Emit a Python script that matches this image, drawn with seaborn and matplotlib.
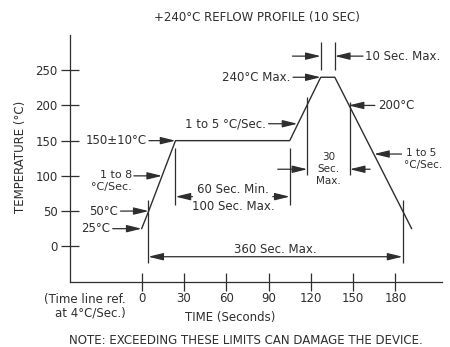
import matplotlib
matplotlib.use("Agg")
import matplotlib.pyplot as plt
import seaborn as sns

# Reflow profile (time in s, temperature in degC)
time_s = [0, 5, 24, 105, 127, 137, 191.5]
temp_c = [25, 50, 150, 150, 240, 240, 25]

x_ticks = [0, 30, 60, 90, 120, 150, 180]
y_ticks = [0, 50, 100, 150, 200, 250]

title = "+240°C REFLOW PROFILE (10 SEC)"
note = "NOTE: EXCEEDING THESE LIMITS CAN DAMAGE THE DEVICE."

INK = "#2e2e2e"
FS = 8.5

sns.set_theme(style="ticks")
plt.rcParams["font.family"] = ["DejaVu Sans"]

fig = plt.figure(figsize=(4.5, 3.47), dpi=100)
ax = fig.add_axes([70 / 450, 65 / 347, 372 / 450, 247 / 347])

sns.lineplot(x=time_s, y=temp_c, ax=ax, color=INK, lw=1.0)

ax.set_xlim(-50.8, 213)
ax.set_ylim(-50.7, 300)
sns.despine(ax=ax)
for side in ["left", "bottom"]:
    ax.spines[side].set_color(INK)
    ax.spines[side].set_linewidth(0.9)

ax.set_xticks(x_ticks)
ax.set_yticks(y_ticks)
ax.tick_params(direction="inout", length=13, width=0.9, color=INK,
               labelsize=FS, labelcolor=INK)
ax.tick_params(axis="x", pad=1)
ax.tick_params(axis="y", pad=2.5)

ax.set_xlabel("TIME (Seconds)", fontsize=FS, color=INK, va="center")
ax.xaxis.set_label_coords((230 - 70) / 372, (282 - 317) / 247)
ax.set_ylabel("TEMPERATURE (°C)", fontsize=FS, color=INK, va="center")
ax.yaxis.set_label_coords((21 - 70) / 372, (282 - 157) / 247)

fig.text(257 / 450, 1 - 18 / 347, title, ha="center", va="center",
         fontsize=FS, color=INK)
fig.text(246 / 450, 1 - 340 / 347, note, ha="center", va="center",
         fontsize=FS, color=INK)

ax.text(-11, -76, "(Time line ref.", ha="right", va="center",
        fontsize=FS, color=INK, clip_on=False)
ax.text(-11, -94.5, "at 4°C/Sec.)", ha="right", va="center",
        fontsize=FS, color=INK, clip_on=False)

HEAD = "-|>,head_length=0.9,head_width=0.22"


def arrow(tip, tail, style=HEAD):
    ax.annotate("", xy=tip, xytext=tail,
                arrowprops=dict(arrowstyle=style, color=INK, lw=0.9,
                                shrinkA=0, shrinkB=0, mutation_scale=10))


def label(x, y, s, ha="center", size=FS):
    ax.text(x, y, s, ha=ha, va="center", fontsize=size, color=INK,
            clip_on=False)


# callouts pointing at the profile
label(-22, 25, "25°C", ha="right")
arrow((time_s[0], temp_c[0]), (-20.5, 25))
label(-16.5, 50, "50°C", ha="right")
arrow((time_s[1], temp_c[1]), (-15, 50))
label(-7, 101, "1 to 8", ha="right", size=8)
label(-7, 84, "°C/Sec.", ha="right", size=8)
arrow((14.5, 100), (-5.5, 100))
label(3.8, 150, "150±10°C", ha="right")
arrow((time_s[2], temp_c[2]), (5.2, 150))
label(88, 174, "1 to 5 °C/Sec.", ha="right")
arrow((110.5, 174), (90, 174))
label(105.8, 240, "240°C Max.", ha="right")
arrow((time_s[4], temp_c[4]), (107.4, 240))
label(167.5, 200, "200°C", ha="left")
arrow((146.8, 200), (165.4, 200))
label(198, 133, "1 to 5", size=7.5)
label(199.5, 116, "°C/Sec.", size=7.5)
arrow((164.8, 131), (184.3, 131))

# 10 Sec. Max. at peak
ax.vlines([time_s[4], time_s[5]], 250, 290, color=INK, lw=0.9)
arrow((time_s[4], 270), (107, 270))
arrow((time_s[5], 270), (157, 270))
label(158.5, 270, "10 Sec. Max.", ha="left")

# 30 Sec. Max. above 200 degC
ax.vlines(117.5, 101, 212, color=INK, lw=0.9)
ax.vlines(147.6, 101, 205, color=INK, lw=0.9)
arrow((117.5, 109.4), (96.5, 109.4))
arrow((147.6, 109.4), (162, 109.4))
label(132.4, 127, "30", size=7.5)
label(132.4, 110, "Sec.", size=7.5)
label(132.4, 93, "Max.", size=7.5)

# soak time
ax.vlines([time_s[2], time_s[3]], 58.6, 139.6, color=INK, lw=0.9)
arrow((time_s[2], 70.5), (36, 70.5))
arrow((time_s[3], 70.5), (93, 70.5))
label(64.4, 80, "60 Sec. Min.")
label(64.7, 57, "100 Sec. Max.")

# total time
ax.vlines([4.7, 185], -24, 66, color=INK, lw=0.9)
arrow((185, -14.8), (4.7, -14.8), style="<|-|>,head_length=0.9,head_width=0.22")
label(94.5, -4.5, "360 Sec. Max.")

fig.savefig("out.png", dpi=100, facecolor="white")
